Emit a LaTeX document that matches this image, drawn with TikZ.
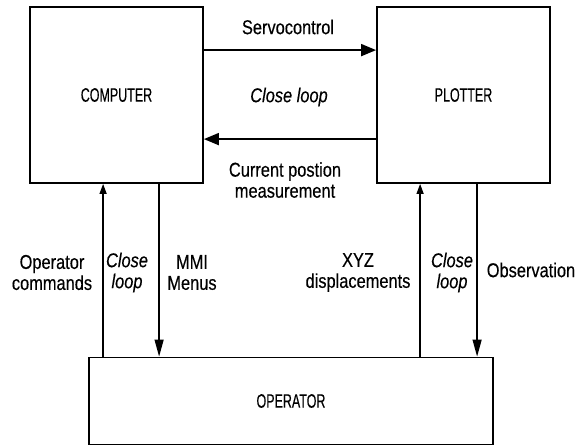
\documentclass[tikz,border=0pt]{standalone}
\usepackage{fontspec}
\setmainfont{Liberation Sans}[FakeStretch=0.82,FakeBold=0.3]
\newfontfamily\capfont{Liberation Sans}[FakeStretch=0.64,FakeBold=0.3]
\usetikzlibrary{arrows.meta}
\begin{document}
\begin{tikzpicture}[x=1pt,y=-1pt,
  box/.style={draw,line width=1.8pt,inner sep=0pt,font=\capfont\fontsize{19.5}{21}\selectfont},
  lbl/.style={inner sep=0pt,align=center,font=\fontsize{20}{21}\selectfont},
  ilbl/.style={lbl,font=\itshape\fontsize{20}{21}\selectfont},
  harrow/.style={line width=1.8pt,-{Triangle[length=15pt,width=12pt]}},
  vdown/.style={line width=1.3pt,-{Triangle[length=17pt,width=9pt]}},
  vup/.style={line width=1.3pt,-{Triangle[length=10pt,width=7pt]}}]
\useasboundingbox (0,0) rectangle (576,446);
\node[box,minimum width=173pt,minimum height=176pt] (comp) at (116.5,95) {COMPUTER};
\node[box,minimum width=173pt,minimum height=176pt] (plot) at (463.5,95) {PLOTTER};
\node[box,minimum width=404pt,minimum height=87pt] (oper) at (291,401) {OPERATOR};
\draw[harrow] ([yshift=-44pt]comp.north east) -- ([yshift=-44pt]plot.north west);
\draw[harrow] ([yshift=-133pt]plot.north west) -- ([yshift=-133pt]comp.north east);
\draw[vup] ([xshift=74pt]comp.south west |- oper.north) -- ([xshift=74pt]comp.south west);
\draw[vdown] ([xshift=130pt]comp.south west) -- ([xshift=130pt]comp.south west |- oper.north);
\draw[vup] ([xshift=44pt]plot.south west |- oper.north) -- ([xshift=44pt]plot.south west);
\draw[vdown] ([xshift=101pt]plot.south west) -- ([xshift=101pt]plot.south west |- oper.north);
\node[lbl] (servo) at (288,27) {Servocontrol};
\node[ilbl] (cl1) at (289,97) {Close loop};
\node[lbl] (cur) at (285,180) {Current postion\\measurement};
\node[lbl] (opc) at (52,272.5) {Operator\\commands};
\node[ilbl] (cl2) at (127,272.5) {Close\\loop};
\node[lbl] (mmi) at (192,272.5) {MMI\\Menus};
\node[lbl] (xyz) at (358,272.5) {XYZ\\displacements};
\node[ilbl] (cl3) at (452,272.5) {Close\\loop};
\node[lbl] (obs) at (531,270) {Observation};
\end{tikzpicture}
\end{document}
